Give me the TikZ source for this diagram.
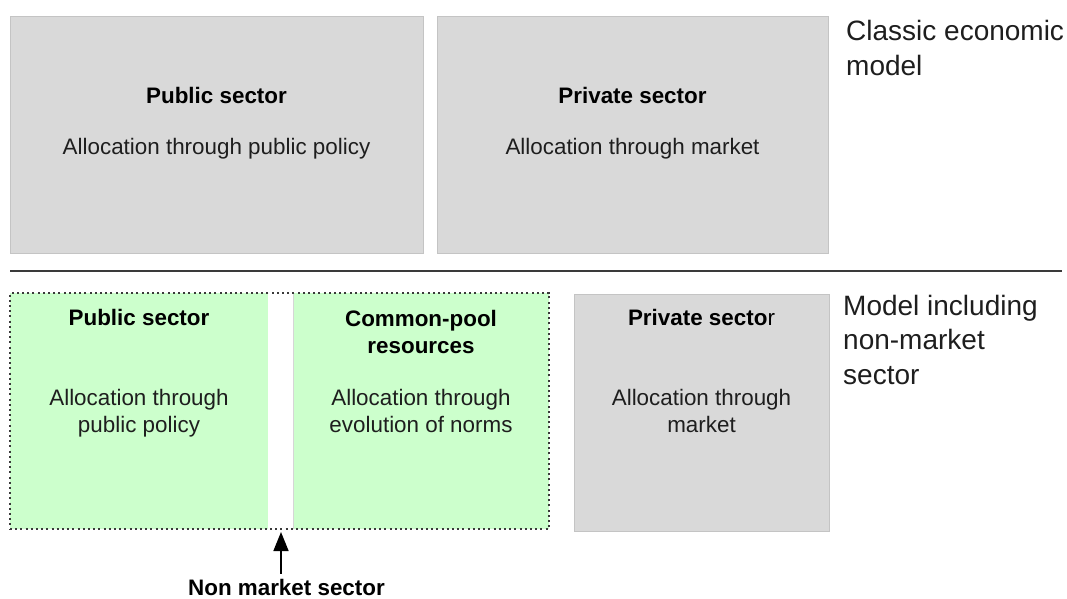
\documentclass[tikz,border=0pt]{standalone}
\usepackage{fontspec}
\setmainfont{Liberation Sans}
\usetikzlibrary{arrows.meta}
\definecolor{boxgray}{HTML}{D9D9D9}
\definecolor{boxedge}{HTML}{C4C4C4}
\definecolor{nmgreen}{HTML}{CCFFCC}
\definecolor{txt}{HTML}{1E1E1E}
\definecolor{sepcol}{HTML}{3A3A3A}
\definecolor{dotcol}{HTML}{3A3A3A}
\begin{document}
\begin{tikzpicture}[x=1pt,y=-1pt,
  sectorbox/.style={draw=boxedge, line width=0.8pt, fill=boxgray, inner sep=0pt},
  greenbox/.style={fill=nmgreen, draw=none, inner sep=0pt},
  dotframe/.style={draw=dotcol, line width=1.6pt, dash pattern=on 2pt off 3.2pt, inner sep=0pt},
  body/.style={font=\fontsize{22.4}{26.5}\selectfont, text=txt, inner sep=0pt, anchor=base, align=center},
  head/.style={font=\fontsize{22.4}{27}\selectfont\bfseries, text=black, inner sep=0pt, anchor=base, align=center},
  side/.style={font=\fontsize{28}{34.5}\selectfont, text=txt, inner sep=0pt, anchor=base west, align=left},
  sepline/.style={draw=sepcol, line width=2pt},
  pointer/.style={-{Triangle[length=19pt,width=15pt]}, line width=1.6pt, shorten <=5pt}
]
\useasboundingbox (0,0) rectangle (1067,598);

% classic model
\node[sectorbox, minimum width=413pt, minimum height=237pt] (pubA) at (216.5,134.5) {};
\node[sectorbox, minimum width=391pt, minimum height=237pt] (privA) at (632.5,134.5) {};
\node[head] (pubAh) at (216.5,103) {Public sector};
\node[body] (pubAt) at (216.5,154) {Allocation through public policy};
\node[head] (privAh) at (632.5,103) {Private sector};
\node[body] (privAt) at (632.5,154) {Allocation through market};
% multi-line nodes: base anchor is the baseline of the last line
\node[side] (classic) at (846,75) {Classic economic\\model};

% separator
\coordinate (sepL) at (10,271);
\coordinate (sepR) at (1062,271);
\draw[sepline] (sepL) -- (sepR);

% model including non-market sector
\node[greenbox, minimum width=258pt, minimum height=236pt] (pubB) at (139,411) {};
\node[greenbox, minimum width=256pt, minimum height=236pt] (cpr) at (421,411) {};
\draw[boxedge!70, line width=0.6pt] (cpr.north west) -- (cpr.south west);
\node[dotframe, minimum width=539pt, minimum height=236pt] (nonmarket) at (279.5,411) {};
\node[sectorbox, minimum width=255pt, minimum height=237pt] (privB) at (701.5,412.5) {};

\node[head] (pubBh) at (139,325) {Public sector};
\node[body] (pubBt) at (139,432) {Allocation through\\public policy};
\node[head] (cprh) at (421,353) {Common-pool\\resources};
\node[body] (cprt) at (421,432) {Allocation through\\evolution of norms};
\node[head] (privBh) at (701.5,325) {Private secto\mdseries r};
\node[body] (privBt) at (701.5,432) {Allocation through\\market};
\node[side] (including) at (843,384) {Model including\\non-market\\sector};

% non market sector pointer
\coordinate (gap) at (281,532);
\node[head] (nms) at (286.5,595) {Non market sector};
\draw[pointer] (nms.north -| gap) -- (gap);
\end{tikzpicture}
\end{document}
